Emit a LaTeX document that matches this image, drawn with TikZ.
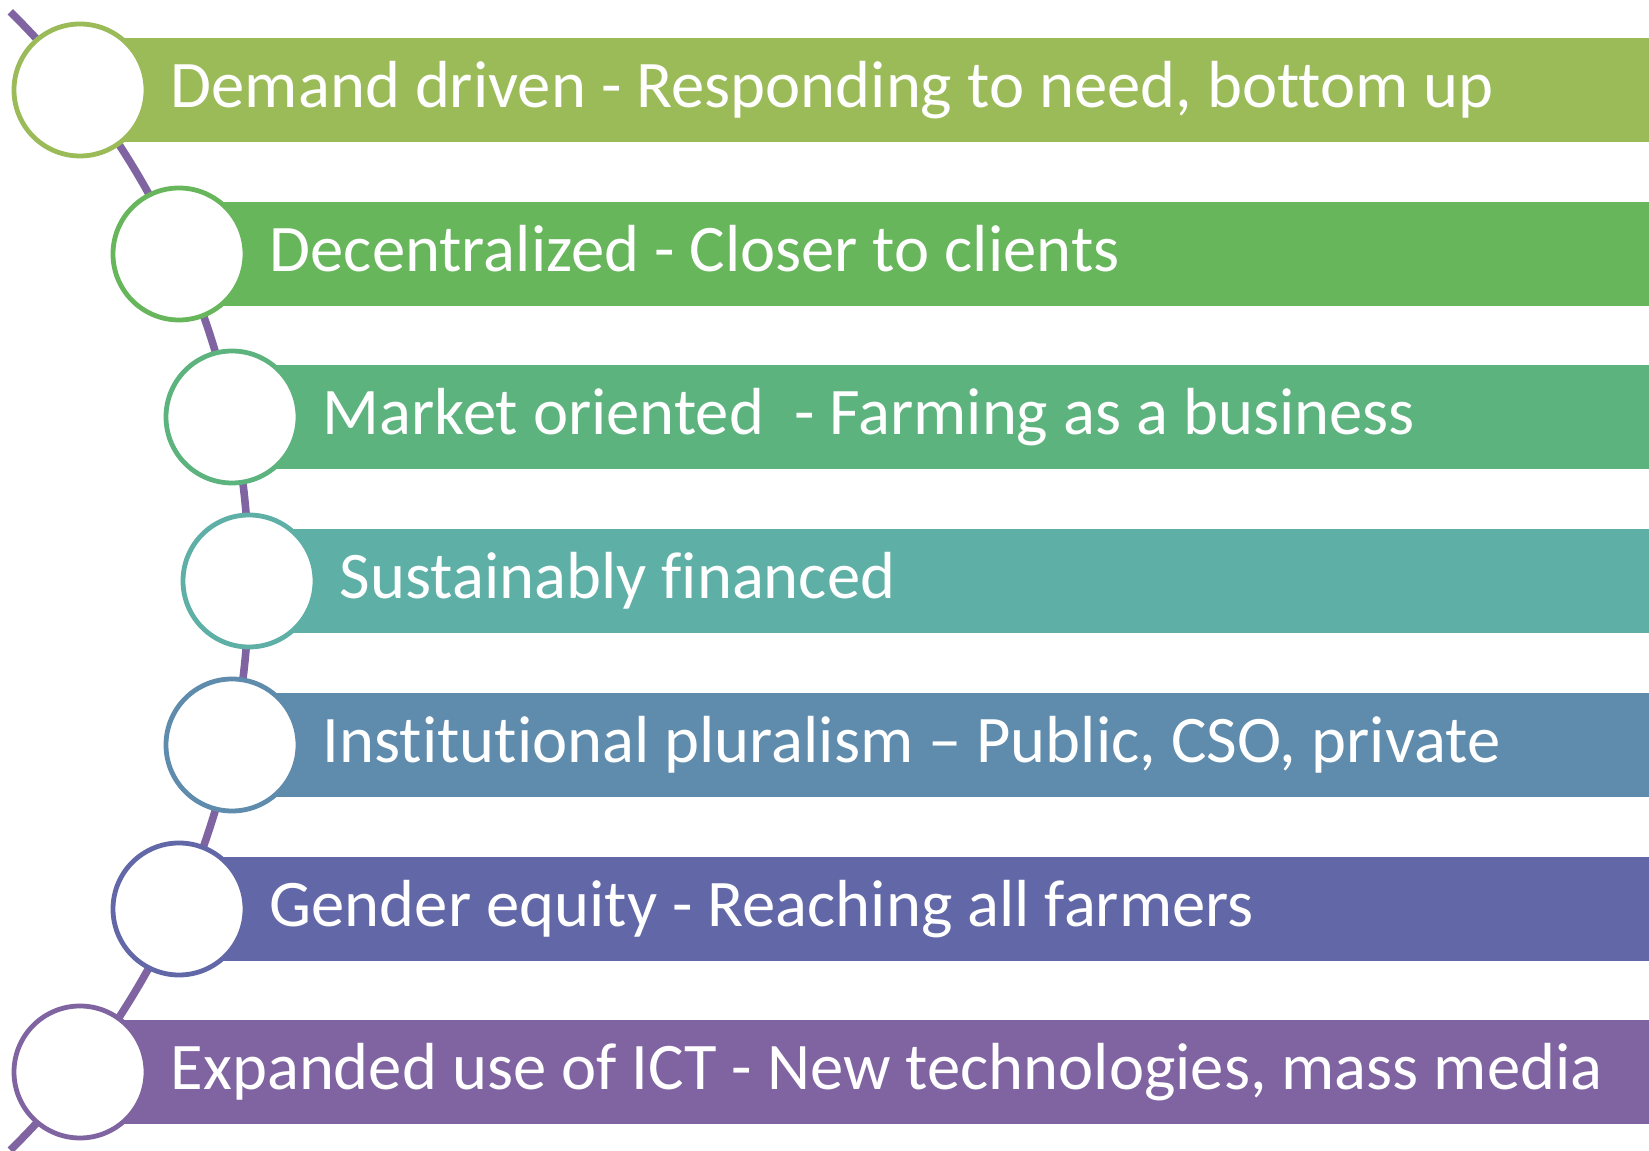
\documentclass[tikz,border=0pt]{standalone}
\usepackage{fontspec}
\setmainfont[Ligatures={NoCommon}]{Carlito}
\usepackage{tikz}
\usetikzlibrary{calc}
\definecolor{spinecol}{HTML}{8064A2}
\definecolor{colA}{HTML}{9BBB59}
\definecolor{colB}{HTML}{68B65C}
\definecolor{colC}{HTML}{5DB37D}
\definecolor{colD}{HTML}{5EAFA5}
\definecolor{colE}{HTML}{5F8CAD}
\definecolor{colF}{HTML}{6167A7}
\definecolor{colG}{HTML}{8064A2}

\begin{document}
\begin{tikzpicture}[x=0.5pt,y=0.5pt,
                spine/.style={draw=spinecol,line width=3.8pt},
                ring/.style={circle,fill=white,line width=2.4pt,minimum size=66pt,inner sep=0pt},
                lbl/.style={text=white,inner sep=0pt,anchor=base west,
                  font=\fontsize{33.3}{40}\selectfont}
                ]
                \useasboundingbox (0,0) rectangle (1649,1151);
                \coordinate (O) at (-549,570);
                \draw [spine] ([shift={(45.5:798)}]O) arc[start angle=45.5,end angle=-45.5,radius=798];
                \foreach \n/\x/\y/\col/\txt in {
                  1/80/1061/colA/{Demand driven - Responding to need, bottom up},
                  2/179/897/colB/{Decentralized - Closer to clients},
                  3/232/734/colC/{Market oriented\ \ - Farming as a business},
                  4/249/570/colD/{Sustainably financed},
                  5/232/406/colE/{Institutional pluralism -- Public, CSO, private},
                  6/179/242/colF/{Gender equity - Reaching all farmers},
                  7/80/79/colG/{Expanded use of ICT - New technologies, mass media}}
                {
                  \fill [\col] (\x,\y-52) rectangle (1649,\y+52);
                  \node [ring,draw=\col] (c\n) at (\x,\y) {};
                  \node [lbl] (t\n) at ([shift={(11pt,-9pt)}]c\n.east) {\txt};
                }
\end{tikzpicture}
\end{document}
